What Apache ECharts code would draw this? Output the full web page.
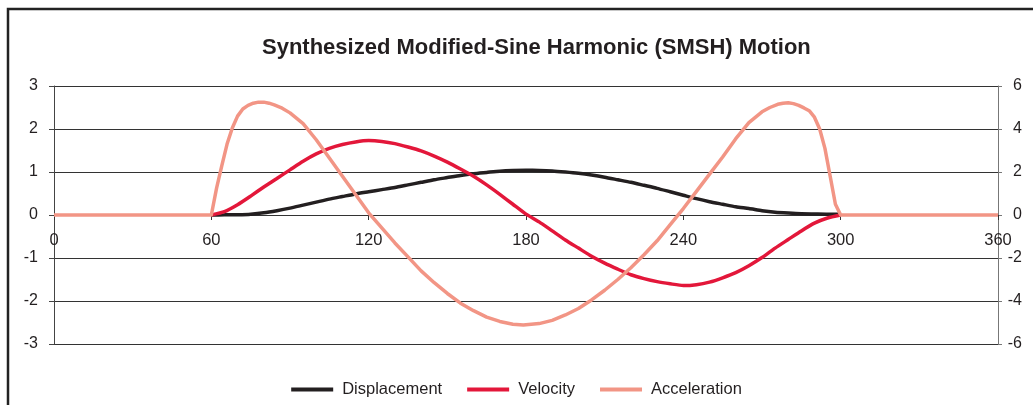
<!DOCTYPE html>
<html>
<head>
<meta charset="utf-8">
<script src="https://cdn.jsdelivr.net/npm/echarts@6/dist/echarts.min.js"></script>
<style>
  html, body { margin: 0; padding: 0; background: #fff; }
  #chart { width: 1033px; height: 405px; }
</style>
</head>
<body>
<div id="chart"></div>
<script>
// degrees for displacement / velocity
const motionDeg = [60, 65, 70, 75, 80, 85, 90, 95, 100, 105, 110, 115, 120, 125, 130, 135, 140, 145, 150, 155, 160, 165, 170, 175, 180,
  185, 190, 195, 200, 205, 210, 215, 220, 225, 230, 235, 240, 245, 250, 255, 260, 265, 270, 275, 280, 285, 290, 295, 300]
const displacement = [0, 0.003, 0.008, 0.02, 0.05, 0.1, 0.16, 0.23, 0.3, 0.37, 0.43, 0.49, 0.54, 0.59, 0.64, 0.7, 0.76, 0.82, 0.87, 0.92, 0.96, 0.99, 1.02, 1.035, 1.04,
  1.037, 1.025, 1.0, 0.97, 0.93, 0.88, 0.82, 0.76, 0.69, 0.62, 0.54, 0.46, 0.38, 0.31, 0.25, 0.19, 0.15, 0.1, 0.065, 0.045, 0.03, 0.025, 0.02, 0.02]
const velocity = [0, 0.08, 0.24, 0.44, 0.65, 0.85, 1.05, 1.25, 1.42, 1.55, 1.64, 1.7, 1.73, 1.71, 1.66, 1.58, 1.49, 1.37, 1.23, 1.07, 0.9, 0.7, 0.48, 0.25, 0.02,
  -0.16, -0.37, -0.58, -0.77, -0.96, -1.12, -1.26, -1.39, -1.48, -1.55, -1.6, -1.64, -1.62, -1.56, -1.46, -1.34, -1.18, -0.99, -0.77, -0.57, -0.37, -0.19, -0.07, 0]

// degrees for acceleration
const accelDeg = [0, 60, 62, 64, 66, 68, 70, 72, 74, 76, 78, 80, 82, 84, 87, 90, 95, 100, 105, 110, 115, 120, 125, 130, 135, 140, 145, 150, 155, 160, 165, 170, 175, 179,
  185, 190, 195, 200, 205, 210, 215, 220, 225, 230, 235, 240, 245, 250, 255, 260, 265, 270, 273, 276, 278, 280, 282, 284, 286, 288, 290, 292, 294, 296, 298, 300, 360]
const acceleration = [0, 0, 1.25, 2.3, 3.3, 4.05, 4.6, 4.93, 5.1, 5.2, 5.25, 5.25, 5.2, 5.12, 4.97, 4.75, 4.25, 3.5, 2.65, 1.8, 0.95, 0.1, -0.6, -1.3, -1.95, -2.6, -3.15, -3.65, -4.1, -4.45, -4.75, -4.95, -5.08, -5.12,
  -5.05, -4.9, -4.65, -4.35, -3.95, -3.5, -3.0, -2.45, -1.85, -1.2, -0.45, 0.3, 1.1, 1.9, 2.7, 3.55, 4.3, 4.8, 5.0, 5.15, 5.2, 5.22, 5.18, 5.1, 4.98, 4.85, 4.55, 4.0, 3.1, 1.8, 0.5, 0, 0]

const xTicks = { min: 0, max: 360, step: 60 }
const leftTicks = { min: -3, max: 3, step: 1 }
const rightTicks = { min: -6, max: 6, step: 2 }

const seriesNames = ['Displacement', 'Velocity', 'Acceleration']
const seriesColors = ['#231f20', '#e3173a', '#f29585']

const font = "'Liberation Sans', Arial, Helvetica, sans-serif"
const pairs = (xs, ys) => xs.map((x, i) => [x, ys[i]])

const chart = echarts.init(document.getElementById('chart'))

const option = {
  animation: false,
  backgroundColor: '#fff',
  textStyle: { fontFamily: font },
  color: seriesColors,
  graphic: [{
    type: 'rect',
    shape: { x: 8, y: 9, width: 1200, height: 600 },
    style: { fill: 'none', stroke: '#222', lineWidth: 2.5 },
    silent: true
  }],
  title: {
    text: 'Synthesized Modified-Sine Harmonic (SMSH) Motion',
    left: 262,
    top: 37,
    padding: 0,
    textStyle: { fontFamily: font, fontSize: 22, fontWeight: 'bold', color: '#231f20' }
  },
  legend: {
    data: seriesNames,
    left: 'center',
    top: 376,
    icon: 'rect',
    itemWidth: 42,
    itemHeight: 4,
    itemGap: 25,
    textStyle: { fontFamily: font, fontSize: 16.5, color: '#231f20', padding: [0, 0, 0, 4] }
  },
  grid: [
    { left: 54, right: 35, top: 86, bottom: 61 },
    // upper half only, so its bottom edge sits on the zero line (x labels)
    { left: 54, right: 35, top: 86, bottom: 190 }
  ],
  xAxis: [{
    type: 'value',
    min: xTicks.min,
    max: xTicks.max,
    interval: xTicks.step,
    axisLine: { onZero: true, onZeroAxisIndex: 0, lineStyle: { color: '#333', width: 1 } },
    axisTick: { show: true, length: 5, lineStyle: { color: '#333' } },
    axisLabel: { show: false },
    splitLine: { show: false }
  }, {
    type: 'value',
    gridIndex: 1,
    min: xTicks.min,
    max: xTicks.max,
    interval: xTicks.step,
    axisLine: { show: false },
    axisTick: { show: false },
    axisLabel: { fontFamily: font, fontSize: 16.5, color: '#231f20', margin: 17 },
    splitLine: { show: false }
  }],
  yAxis: [{
    type: 'value',
    min: leftTicks.min,
    max: leftTicks.max,
    interval: leftTicks.step,
    axisLine: { show: true, onZero: false, lineStyle: { color: '#444' } },
    axisTick: { show: true, length: 5, lineStyle: { color: '#444' } },
    axisLabel: { fontFamily: font, fontSize: 16, color: '#231f20', margin: 16 },
    splitLine: { show: true, lineStyle: { color: '#333', width: 1 } }
  }, {
    type: 'value',
    position: 'right',
    min: rightTicks.min,
    max: rightTicks.max,
    interval: rightTicks.step,
    axisLine: { show: true, onZero: false, lineStyle: { color: '#777' } },
    axisTick: { show: true, length: 4, lineStyle: { color: '#777' } },
    axisLabel: { fontFamily: font, fontSize: 16, color: '#231f20', margin: 24, align: 'right' },
    splitLine: { show: false }
  }, {
    type: 'value',
    gridIndex: 1,
    min: 0,
    max: 3,
    show: false
  }],
  series: [{
    name: seriesNames[0],
    type: 'line',
    data: pairs(motionDeg, displacement),
    showSymbol: false,
    smooth: 0.2,
    lineStyle: { width: 3.5, color: seriesColors[0] }
  }, {
    name: seriesNames[1],
    type: 'line',
    data: pairs(motionDeg, velocity),
    showSymbol: false,
    smooth: 0.2,
    lineStyle: { width: 3.5, color: seriesColors[1] }
  }, {
    name: seriesNames[2],
    type: 'line',
    yAxisIndex: 1,
    data: pairs(accelDeg, acceleration),
    showSymbol: false,
    smooth: false,
    lineStyle: { width: 3.5, color: seriesColors[2], join: 'round' }
  }]
}

chart.setOption(option)
</script>
</body>
</html>
